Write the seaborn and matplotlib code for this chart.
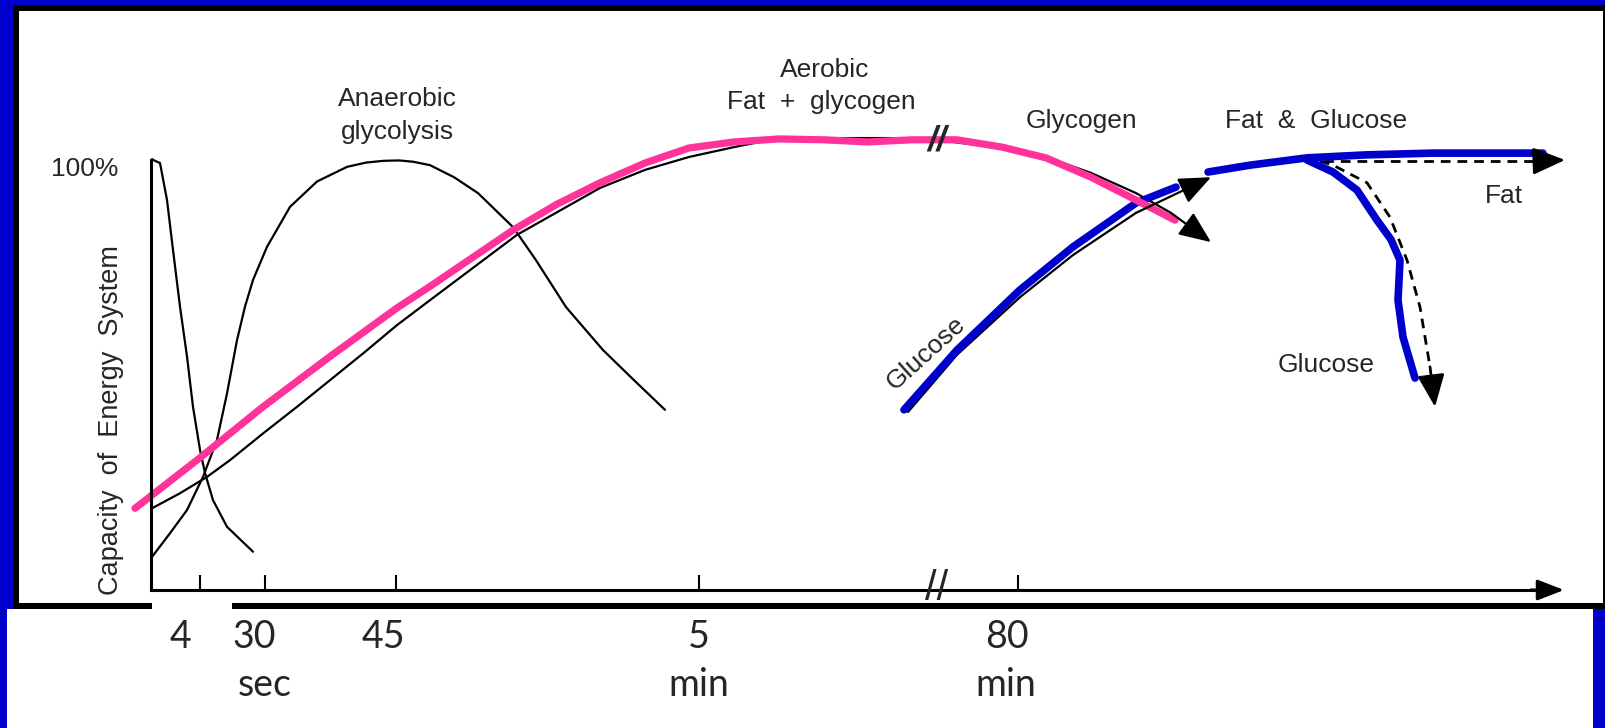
import matplotlib
matplotlib.use("Agg")
import matplotlib.pyplot as plt
from matplotlib.patches import Rectangle
import seaborn as sns

# x = position along the broken time axis (0 = origin, 141 = arrow tip)
# y = capacity of the energy system, % of maximum
atp_x = [0.1, 0.4, 0.9, 1.6, 2.2, 2.9, 3.6, 4.2, 4.9, 5.4, 6.2, 7.6, 10.2]
atp_y = [100.2, 99.8, 99.3, 90.7, 79.1, 65.9, 54.3, 42.6, 32.6, 27.2, 20.9, 14.7, 8.9]

glyco_x = [0.1, 1.9, 3.6, 5.2, 6.6, 7.6, 8.6, 9.4, 10.2, 11.6, 13.9, 16.6, 19.6,
           21.5, 23.2, 24.8, 26.2, 27.9, 30.3, 32.7, 36.2, 38.5, 41.5, 45.2, 48.3, 51.4]
glyco_y = [7.7, 13.2, 18.6, 26.3, 34.9, 45.7, 58.1, 65.9, 72.1, 79.8, 89.1, 95.0, 98.4,
           99.4, 99.8, 99.9, 99.6, 98.8, 96.0, 92.3, 84.4, 76.7, 65.8, 55.8, 48.8, 41.9]

aerobic_x = [0.1, 2.9, 5.6, 7.9, 11.2, 14.6, 17.9, 21.2, 24.6, 27.9, 36.6, 44.9, 49.4,
             53.8, 58.3, 62.8, 73.9, 78.4, 85.1, 89.5, 94.0, 98.5, 102.0, 106.0]
aerobic_y = [19.0, 22.5, 26.3, 30.2, 36.4, 42.6, 48.8, 55.0, 61.6, 67.4, 82.6, 93.5, 97.7,
             100.7, 103.0, 105.1, 105.1, 104.7, 102.8, 100.7, 97.0, 92.3, 87.7, 80.9]

pink_x = [-1.6, 4.6, 11.2, 17.9, 24.6, 27.9, 36.2, 40.5, 44.9, 49.4, 53.8, 58.3, 62.8,
          67.2, 71.7, 76.1, 80.6, 85.1, 89.5, 94.0, 98.5, 102.4]
pink_y = [19.0, 30.2, 42.6, 54.3, 65.6, 70.6, 83.7, 89.6, 94.7, 99.3, 102.8, 104.2, 104.9,
          104.7, 104.2, 104.7, 104.7, 103.0, 100.5, 96.0, 90.7, 86.0]

glucose_x = [75.7, 80.6, 86.9, 92.2, 98.5, 106.0]
glucose_y = [41.4, 54.7, 68.1, 77.9, 87.7, 96.0]
glucose_blue_x = [75.3, 80.6, 86.9, 92.2, 98.5, 102.5]
glucose_blue_y = [41.9, 55.8, 69.8, 79.8, 90.0, 93.7]

fat_blue_x = [105.7, 109.9, 115.6, 121.6, 128.2, 139.2]
fat_blue_y = [97.2, 98.8, 100.5, 101.2, 101.6, 101.6]
fat_dash_x = [115.6, 139.0, 141.4]
fat_dash_y = [99.8, 99.8, 100.0]

late_glu_x = [115.6, 118.2, 120.6, 122.6, 124.0, 124.9, 124.7, 125.2, 126.4]
late_glu_y = [100.0, 97.2, 93.0, 86.0, 81.5, 76.7, 67.4, 58.8, 49.3]
late_dash_x = [116.9, 118.2, 121.6, 123.9, 125.6, 126.9, 127.9, 128.4]
late_dash_y = [99.8, 98.8, 94.7, 86.7, 76.7, 65.8, 51.9, 42.6]

tick_pos = [4.9, 11.4, 24.5, 54.8, 86.7]
tick_labels = ["4", "30", "45", "5", "80"]
label_x = [2.95, 10.35, 23.2, 54.8, 85.6]
unit_labels = ["sec", "min", "min"]
unit_x = [11.35, 54.8, 85.5]

BLUE = "#0000CC"
PINK = "#FF3399"
W, H = 1605, 728

sns.set_style("white")
plt.rcParams["font.family"] = ["Liberation Sans", "DejaVu Sans"]

fig = plt.figure(figsize=(W / 100, H / 100), dpi=100, facecolor=BLUE)


def px_rect(x0, y0, x1, y1, color):
    r = Rectangle((x0 / W, 1 - y1 / H), (x1 - x0) / W, (y1 - y0) / H,
                  transform=fig.transFigure, facecolor=color, edgecolor="none", zorder=-10)
    fig.add_artist(r)


# slide frame + scanned figure frame
px_rect(13, 5, 1605, 609, "black")
px_rect(19, 11, 1602.5, 603, "white")
px_rect(7, 609, 1593, 728, "white")
px_rect(152, 603, 232, 609, "white")

ax = fig.add_axes([151 / W, (H - 590) / H, 1410 / W, 430 / H])
ax.set_facecolor("none")
ax.set_xlim(0, 141)
ax.set_ylim(0, 100)


def draw(x, y, color="black", lw=1.6, **kw):
    sns.lineplot(x=x, y=y, sort=False, estimator=None, color=color, linewidth=lw,
                 ax=ax, clip_on=False, legend=False, **kw)


def head(x, y, lw=1.6, scale=22):
    ax.annotate("", xy=(x[-1], y[-1]), xytext=(x[-2], y[-2]), annotation_clip=False,
                arrowprops=dict(arrowstyle="-|>,head_length=0.9,head_width=0.38",
                                color="black", lw=lw, mutation_scale=scale,
                                shrinkA=0, shrinkB=0))


draw(atp_x, atp_y)
draw(glyco_x, glyco_y)
draw(aerobic_x[:-1], aerobic_y[:-1])
head(aerobic_x, aerobic_y)
draw(glucose_x[:-1], glucose_y[:-1])
head(glucose_x, glucose_y)
draw(fat_dash_x[:-1], fat_dash_y[:-1], lw=2, linestyle=(0, (3.5, 2.5)))
head(fat_dash_x, fat_dash_y, lw=2)
draw(late_dash_x[:-1], late_dash_y[:-1], lw=2, linestyle=(0, (3.5, 2.5)))
head(late_dash_x, late_dash_y, lw=2)

draw(glucose_blue_x, glucose_blue_y, BLUE, 5.5)
draw(fat_blue_x, fat_blue_y, BLUE, 5.5)
draw(late_glu_x, late_glu_y, BLUE, 5.5)
draw(pink_x, pink_y, PINK, 5.2)

# axes
sns.despine(ax=ax, top=True, right=True)
for s in ("left", "bottom"):
    ax.spines[s].set_linewidth(2.2)
    ax.spines[s].set_color("black")
ax.spines["bottom"].set_bounds(0, 139.5)
ax.annotate("", xy=(141.3, 0), xytext=(138, 0), annotation_clip=False,
            arrowprops=dict(arrowstyle="-|>,head_length=0.9,head_width=0.35",
                            color="black", lw=2.2, mutation_scale=18, shrinkA=0, shrinkB=0))
ax.set_yticks([])
ax.set_xticks(tick_pos)
ax.set_xticklabels([])
ax.tick_params(axis="x", direction="in", length=10.5, width=1.5, color="black", bottom=True)

# break marks
ax.text(78.6, 104.4, "//", fontsize=25, fontweight="bold", fontstyle="italic",
        ha="center", va="center", clip_on=False)
ax.text(78.6, 0.3, "//", fontsize=30, ha="center", va="center", clip_on=False)

# time labels
for lx, t in zip(label_x, tick_labels):
    ax.text(lx, -13.6, t, fontsize=27, family="Lato", ha="center", va="baseline",
            clip_on=False)
for ux, t in zip(unit_x, unit_labels):
    ax.text(ux, -24.7, t, fontsize=27, family="Lato", ha="center", va="baseline",
            clip_on=False)

# annotations
txt = dict(fontsize=19, ha="center", va="center", clip_on=False)
ax.text(24.6, 114.2, "Anaerobic", **txt)
ax.text(24.6, 106.5, "glycolysis", **txt)
ax.text(67.4, 120.9, "Aerobic", **txt)
ax.text(67.0, 113.5, "Fat  +  glycogen", **txt)
ax.text(93.0, 109.1, "Glycogen", **txt)
ax.text(116.5, 109.1, "Fat  &  Glucose", **txt)
ax.text(135.3, 91.6, "Fat", **txt)
ax.text(117.5, 52.3, "Glucose", **txt)
ax.text(77.5, 55.1, "Glucose", rotation=42, **txt)
ax.text(-6.65, 97.9, "100%", **txt)
ax.text(-3.95, 39.6, "Capacity  of  Energy  System", fontsize=19.5, rotation=90,
        ha="center", va="center", clip_on=False)

fig.savefig("out.png", dpi=100, facecolor=BLUE)
